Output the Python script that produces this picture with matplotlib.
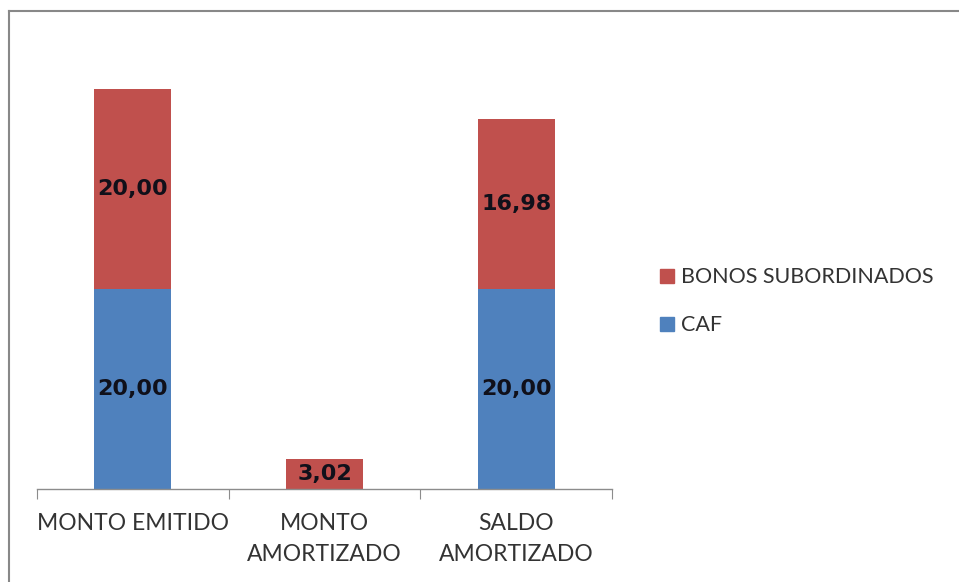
"""
Stacked bars: CAF and bonos subordinados (monto emitido, amortizado, saldo).
"""

import numpy as np
import matplotlib.pyplot as plt
from matplotlib.lines import Line2D

categories = ["MONTO EMITIDO", "MONTO\nAMORTIZADO", "SALDO\nAMORTIZADO"]
caf = [20.00, 0.0, 20.00]
bonos = [20.00, 3.02, 16.98]
series_names = ["CAF", "BONOS SUBORDINADOS"]


def fmt(v):
    return f"{v:.2f}".replace(".", ",")


def main():
    plt.rcParams["font.family"] = ["Lato", "DejaVu Sans"]
    fig = plt.figure(figsize=(9.59, 5.82), dpi=100)
    ax = fig.add_axes([37 / 959, 1 - 489 / 582, 575 / 959, 450 / 582])

    x = np.arange(len(categories))
    b1 = ax.bar(x, caf, width=0.4, color="#4F81BD", label=series_names[0])
    b2 = ax.bar(x, bonos, width=0.4, bottom=caf, color="#C0504D",
                label=series_names[1])

    # data labels, skip empty segments
    for bars, vals, bots in [(b1, caf, [0] * 3), (b2, bonos, caf)]:
        for rect, v, b in zip(bars, vals, bots):
            if v <= 0:
                continue
            ax.text(rect.get_x() + rect.get_width() / 2, b + v / 2, fmt(v),
                    ha="center", va="center", fontsize=16, fontweight="bold",
                    family="DejaVu Sans", color="#10101a")

    ax.set_xlim(-0.5, 2.5)
    ax.set_ylim(0, 45)
    for s in ["top", "right", "left"]:
        ax.spines[s].set_visible(False)
    ax.spines["bottom"].set_color("#8c8c8c")
    ax.spines["bottom"].set_linewidth(1.0)
    ax.set_yticks([])

    # tick marks on category boundaries, labels centred
    ax.set_xticks([-0.5, 0.5, 1.5, 2.5])
    ax.set_xticklabels([])
    ax.tick_params(axis="x", which="major", length=7, color="#8c8c8c",
                   direction="out")
    ax.set_xticks(x, minor=True)
    ax.set_xticklabels(categories, minor=True, fontsize=16.5, color="#333333",
                       linespacing=1.62)
    ax.tick_params(axis="x", which="minor", length=0, pad=17)

    handles = [Line2D([], [], marker="s", linestyle="", markersize=10,
                      color="#C0504D"),
               Line2D([], [], marker="s", linestyle="", markersize=10,
                      color="#4F81BD")]
    fig.legend(handles, [series_names[1], series_names[0]],
               loc="upper left", bbox_to_anchor=(640 / 959, 1 - 248 / 582),
               frameon=False, fontsize=15.5, labelspacing=1.3,
               handlelength=0.75, handletextpad=0.25, labelcolor="#333333")

    # chart frame (only top and left edges show)
    fig.add_artist(Line2D([9 / 959, 9 / 959], [0, 1 - 11 / 582],
                          color="#888888", linewidth=1.5))
    fig.add_artist(Line2D([9 / 959, 1], [1 - 11 / 582, 1 - 11 / 582],
                          color="#888888", linewidth=1.5))

    fig.savefig("out.png", dpi=100)


if __name__ == "__main__":
    main()
